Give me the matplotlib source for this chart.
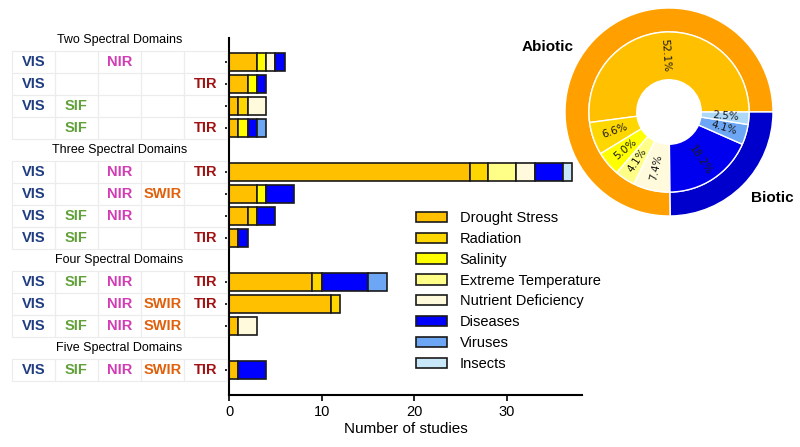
import numpy as np
import matplotlib
matplotlib.use("Agg")
import matplotlib.pyplot as plt
from matplotlib.patches import Rectangle

plt.rcParams['font.family'] = ['Liberation Sans', 'DejaVu Sans']

# stress categories, bar colours
categories = ["Drought Stress", "Radiation", "Salinity", "Extreme Temperature",
              "Nutrient Deficiency", "Diseases", "Viruses", "Insects"]
colors = ["#FFC000", "#FFD700", "#FFFF00", "#FFFF88",
          "#FFFADC", "#0000FF", "#6CA6F5", "#C8E8FA"]

# spectral domain combinations, top to bottom
groups = ["Two Spectral Domains", "Three Spectral Domains",
          "Four Spectral Domains", "Five Spectral Domains"]
group_rows = [
    [("VIS", "NIR"), ("VIS", "TIR"), ("VIS", "SIF"), ("SIF", "TIR")],
    [("VIS", "NIR", "TIR"), ("VIS", "NIR", "SWIR"), ("VIS", "SIF", "NIR"), ("VIS", "SIF", "TIR")],
    [("VIS", "SIF", "NIR", "TIR"), ("VIS", "NIR", "SWIR", "TIR"), ("VIS", "SIF", "NIR", "SWIR")],
    [("VIS", "SIF", "NIR", "SWIR", "TIR")],
]
domains = ["VIS", "SIF", "NIR", "SWIR", "TIR"]
domain_colors = {"VIS": "#1F3D80", "SIF": "#62A03A", "NIR": "#D23CB4",
                 "SWIR": "#E0600C", "TIR": "#A01212"}

# number of studies per row for each category
drought   = [3, 2, 1, 1, 26, 3, 2, 1, 9, 11, 1, 1]
radiation = [0, 0, 1, 0, 2, 0, 1, 0, 1, 1, 0, 0]
salinity  = [1, 1, 0, 1, 0, 1, 0, 0, 0, 0, 0, 0]
ext_temp  = [0, 0, 0, 0, 3, 0, 0, 0, 0, 0, 0, 0]
nutrient  = [1, 0, 2, 0, 2, 0, 0, 0, 0, 0, 2, 0]
diseases  = [1, 1, 0, 1, 3, 3, 2, 1, 5, 0, 0, 3]
viruses   = [0, 0, 0, 1, 0, 0, 0, 0, 2, 0, 0, 0]
insects   = [0, 0, 0, 0, 1, 0, 0, 0, 0, 0, 0, 0]
series = [drought, radiation, salinity, ext_temp, nutrient, diseases, viruses, insects]

# donut chart shares (%)
inner_pct = [52.1, 6.6, 5.0, 4.1, 7.4, 18.2, 4.1, 2.5]
outer_labels = ["Abiotic", "Biotic"]
outer_pct = [75.2, 24.8]
outer_colors = ["#FFA000", "#0000CD"]
inner_colors = ["#FFC000", "#FFD700", "#FFFF00", "#FFFF88",
                "#FFFADC", "#0000EE", "#6CA6F5", "#ADD8F8"]

# slot layout: header takes one slot, each combination one slot
row_y, header_y = [], []
slot = -1
for rows in group_rows:
    header_y.append(slot)
    slot += 1
    for _ in rows:
        row_y.append(slot)
        slot += 1
row_y = np.array(row_y)

W, H = 800, 447
fig = plt.figure(figsize=(W / 100, H / 100), dpi=100)

top_px, bot_px = 38, 395
ax = fig.add_axes([229 / W, 1 - bot_px / H, (582 - 229) / W, (bot_px - top_px) / H])
left = np.zeros(len(row_y))
for cat, vals, col in zip(categories, series, colors):
    vals = np.array(vals, dtype=float)
    m = vals > 0
    ax.barh(row_y[m], vals[m], left=left[m], height=0.8, color=col,
            edgecolor="#1a1a1a", linewidth=1.2, label=cat)
    left += vals

ax.set_ylim((bot_px - 62) / 22, (top_px - 62) / 22)
ax.set_xlim(0, 38.1)
ax.set_yticks(row_y)
ax.set_yticklabels([])
ax.set_xticks([0, 10, 20, 30])
ax.tick_params(axis="y", length=3, width=1.2)
ax.tick_params(axis="x", length=4, width=1.2, labelsize=10.5)
for s in ["top", "right"]:
    ax.spines[s].set_visible(False)
for s in ["left", "bottom"]:
    ax.spines[s].set_linewidth(1.5)
ax.set_xlabel("Number of studies", fontsize=11, labelpad=2)

ax.legend(loc="upper left", bbox_to_anchor=(416 / W, 1 - 211 / H),
          bbox_transform=fig.transFigure, frameon=False, fontsize=10.5,
          handlelength=2.1, handleheight=0.7, handletextpad=0.9,
          labelspacing=0.47, borderpad=0, borderaxespad=0)

# table of spectral domains
tax = fig.add_axes([0, 1 - bot_px / H, 229 / W, (bot_px - top_px) / H], sharey=ax)
tax.set_xlim(0, 229)
tax.axis("off")
x0, cw = 12, 43
for hy, name in zip(header_y, groups):
    tax.text(x0 + 2.5 * cw, hy, name, ha="center", va="center", fontsize=9)
i = 0
for rows in group_rows:
    for combo in rows:
        y = row_y[i]
        for c, d in enumerate(domains):
            tax.add_patch(Rectangle((x0 + c * cw, y - 0.5), cw, 1, fill=False,
                                    edgecolor="#ECECEC", linewidth=0.8))
            if d in combo:
                tax.text(x0 + c * cw + cw / 2, y, d, ha="center", va="center",
                         fontsize=10.5, fontweight="bold", color=domain_colors[d])
        i += 1

# donut
cx, cy, r = 669, 112, 104
pax = fig.add_axes([(cx - r) / W, (H - cy - r) / H, 2 * r / W, 2 * r / H])
pax.pie(outer_pct, radius=1, colors=outer_colors, startangle=0,
        wedgeprops=dict(width=0.23, edgecolor="white", linewidth=1))
wedges, _ = pax.pie(inner_pct, radius=0.77, colors=inner_colors, startangle=0,
                    wedgeprops=dict(width=0.46, edgecolor="white", linewidth=1))
for w, p in zip(wedges, inner_pct):
    mid = (w.theta1 + w.theta2) / 2
    rot = ((mid + 90) % 180) - 90
    rr = 0.55
    pax.text(rr * np.cos(np.radians(mid)), rr * np.sin(np.radians(mid)), f"{p:.1f}%",
             ha="center", va="center", rotation=rot,
             fontsize=7.5, color="#1a1a1a", family="DejaVu Sans")
pax.set_xlim(-1, 1)
pax.set_ylim(-1, 1)

fig.text(548 / W, 1 - 47 / H, outer_labels[0], ha="center", va="center",
         fontsize=11, fontweight="bold")
fig.text(772 / W, 1 - 198 / H, outer_labels[1], ha="center", va="center",
         fontsize=11, fontweight="bold")

fig.savefig("out.png", dpi=100)
